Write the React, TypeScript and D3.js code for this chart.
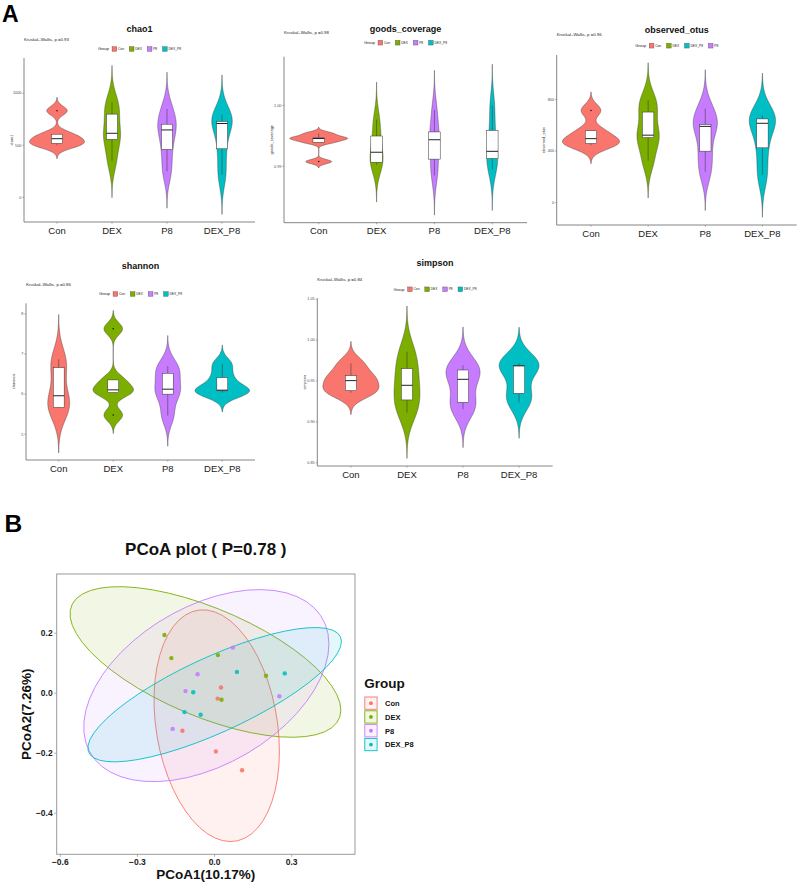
import * as d3 from 'd3';

const FONT = '"Liberation Sans", Arial, Helvetica, sans-serif';

const groups = ['Con', 'DEX', 'P8', 'DEX_P8'];
const groupColors = ['#F8766D', '#7CAE00', '#C77CFF', '#00BFC4'];

// alpha diversity, five samples per group (Con, DEX, P8, DEX_P8), read back from the boxes
const chao1 = [
  [499, 518, 563, 606, 832],
  [350, 557, 615, 799, 913],
  [249, 460, 647, 702, 848],
  [217, 466, 709, 728, 793],
];
const goodsCoverage = [
  [0.99077, 0.99395, 0.99456, 0.99467, 0.99538],
  [0.99026, 0.99067, 0.99231, 0.99497, 0.99769],
  [0.9885, 0.99118, 0.99436, 0.99564, 0.99923],
  [0.9895, 0.99128, 0.99246, 0.9959, 1.0],
];
const observedOtus = [
  [446, 459, 496, 557, 715],
  [325, 504, 523, 702, 795],
  [240, 399, 591, 605, 729],
  [214, 425, 615, 649, 676],
];
const shannon = [
  [5.65, 5.67, 5.96, 6.66, 6.87],
  [5.479, 6.041, 6.107, 6.355, 7.628],
  [5.463, 6.0, 6.124, 6.52, 6.7],
  [6.04, 6.083, 6.099, 6.413, 6.744],
];
const simpson = [
  [0.9357, 0.9382, 0.9504, 0.9565, 0.9716],
  [0.9113, 0.9268, 0.9447, 0.9651, 0.9858],
  [0.9154, 0.9239, 0.952, 0.9634, 0.9691],
  [0.9239, 0.9349, 0.9685, 0.9691, 0.9716],
];

const chao1Ticks = [0, 500, 1000];
const goodsTicks = [0.99, 1.0];
const otusTicks = [0, 400, 800];
const shannonTicks = [5, 6, 7, 8];
const simpsonTicks = [0.85, 0.9, 0.95, 1.0, 1.05];

const kruskalP = ['0.93', '0.98', '0.96', '0.86', '0.84'];

// PCoA sample scores
const pcoaCon = [[0.025, 0.019], [0.012, -0.018], [-0.125, -0.125], [0.005, -0.194], [0.107, -0.257]];
const pcoaDex = [[-0.195, 0.194], [-0.168, 0.117], [0.013, 0.127], [0.2, 0.058], [0.027, -0.022]];
const pcoaP8 = [[0.071, 0.152], [-0.066, 0.063], [-0.113, 0.007], [0.252, -0.01], [-0.163, -0.119]];
const pcoaDexP8 = [[0.087, 0.071], [0.273, 0.066], [-0.083, 0.003], [-0.117, -0.063], [-0.054, -0.072]];
const pcoaXTicks = [-0.6, -0.3, 0, 0.3];
const pcoaYTicks = [-0.4, -0.2, 0, 0.2];

const panels = [
  { title: 'chao1', data: chao1, ticks: chao1Ticks, fmt: (v: number) => String(v), p: kruskalP[0], order: [0, 1, 2, 3],
    left: 24, right: 255, top: 58, bottom: 222, titleY: 32, pY: 40.5, legendY: 49 },
  { title: 'goods_coverage', data: goodsCoverage, ticks: goodsTicks, fmt: (v: number) => v.toFixed(2), p: kruskalP[1], order: [0, 1, 2, 3],
    left: 284, right: 527, top: 56.7, bottom: 222.7, titleY: 32, pY: 34.3, legendY: 42.7 },
  { title: 'observed_otus', data: observedOtus, ticks: otusTicks, fmt: (v: number) => String(v), p: kruskalP[2], order: [0, 1, 3, 2],
    left: 556.7, right: 796.7, top: 55, bottom: 225, titleY: 33, pY: 35.5, legendY: 45.7 },
  { title: 'shannon', data: shannon, ticks: shannonTicks, fmt: (v: number) => String(v), p: kruskalP[3], order: [0, 1, 2, 3],
    left: 26, right: 255, top: 303.3, bottom: 460, titleY: 268.7, pY: 285.8, legendY: 294 },
  { title: 'simpson', data: simpson, ticks: simpsonTicks, fmt: (v: number) => v.toFixed(2), p: kruskalP[4], order: [0, 1, 2, 3],
    left: 317.3, right: 552.7, top: 298.3, bottom: 466, titleY: 266.3, pY: 280.5, legendY: 289.3 },
];

let ctx: CanvasRenderingContext2D | null = null;
function textWidth(s: string, size: number, weight = 'normal') {
  if (!ctx) ctx = document.createElement('canvas').getContext('2d');
  if (!ctx) return s.length * size * 0.55;
  ctx.font = `${weight} 100px ${FONT}`;
  return (ctx.measureText(s).width * size) / 100;
}

// R's bw.nrd0
function bwNrd0(v: number[]) {
  const sd = d3.deviation(v)!;
  const iqr = d3.quantile(v, 0.75)! - d3.quantile(v, 0.25)!;
  const lo = Math.min(sd, iqr / 1.34);
  return 0.9 * lo * Math.pow(v.length, -0.2);
}

function gaussKde(v: number[], bw: number, y: number) {
  return d3.sum(v, (x) => Math.exp(-0.5 * ((y - x) / bw) ** 2)) / (v.length * bw * Math.sqrt(2 * Math.PI));
}

function violinStats(v: number[]) {
  const bw = bwNrd0(v);
  const lo = d3.min(v)! - 3 * bw;
  const hi = d3.max(v)! + 3 * bw;
  const dens = d3.range(256).map((i) => {
    const y = lo + ((hi - lo) * i) / 255;
    return { y, d: gaussKde(v, bw, y) };
  });
  const s = v.slice().sort(d3.ascending);
  const q1 = d3.quantileSorted(s, 0.25)!;
  const med = d3.quantileSorted(s, 0.5)!;
  const q3 = d3.quantileSorted(s, 0.75)!;
  const iqr = q3 - q1;
  const inside = s.filter((x) => x >= q1 - 1.5 * iqr && x <= q3 + 1.5 * iqr);
  const out = s.filter((x) => x < q1 - 1.5 * iqr || x > q3 + 1.5 * iqr);
  return { lo, hi, dens, q1, med, q3, wLo: inside[0], wHi: inside[inside.length - 1], out };
}

function ViolinPanel({ cfg }: { cfg: (typeof panels)[number] }) {
  const stats = cfg.data.map(violinStats);
  const maxD = d3.max(stats, (s) => d3.max(s.dens, (d) => d.d))!;
  const yLo = d3.min(stats, (s) => s.lo)!;
  const yHi = d3.max(stats, (s) => s.hi)!;
  const pad = (yHi - yLo) * 0.05;
  const y = d3.scaleLinear().domain([yLo - pad, yHi + pad]).range([cfg.bottom, cfg.top]);
  const x = d3.scalePoint<string>().domain(groups).range([cfg.left, cfg.right]).padding(0.6);
  const half = x.step() / 2;
  const boxHalf = x.step() * 0.1;
  const cx0 = (cfg.left + cfg.right) / 2;

  // legend layout (top, centred on the panel)
  const keyS = 4.7;
  const titleW = textWidth('Group', 4);
  const items = cfg.order.map((gi) => ({ gi, w: textWidth(groups[gi], 3.3) }));
  const totalW = titleW + 3 + d3.sum(items, (it) => keyS + 1.2 + it.w + 5.3) - 5.3;
  let lx = cx0 - totalW / 2 + titleW + 3;
  const legendItems = items.map((it) => {
    const pos = lx;
    lx += keyS + 1.2 + it.w + 5.3;
    return { ...it, x: pos };
  });

  return (
    <g>
      <text x={cx0} y={cfg.titleY} fontSize={9} fontWeight="bold" textAnchor="middle" fill="#111">{cfg.title}</text>
      <text x={cfg.left} y={cfg.pY} fontSize={4.3} fill="#222">{`Kruskal\u2013Wallis, p =${cfg.p}`}</text>
      <text x={cx0 - totalW / 2} y={cfg.legendY + 1.4} fontSize={4} fill="#222">Group</text>
      {legendItems.map((it) => (
        <g key={it.gi}>
          <rect x={it.x} y={cfg.legendY - keyS / 2} width={keyS} height={keyS} fill={groupColors[it.gi]} stroke="#333" strokeWidth={0.3} />
          <text x={it.x + keyS + 1.2} y={cfg.legendY + 1.1} fontSize={3.3} fill="#222">{groups[it.gi]}</text>
        </g>
      ))}

      {stats.map((s, i) => {
        const cx = x(groups[i])!;
        const area = d3
          .area<{ y: number; d: number }>()
          .y((d) => y(d.y))
          .x0((d) => cx - (d.d / maxD) * half)
          .x1((d) => cx + (d.d / maxD) * half);
        return (
          <g key={groups[i]}>
            <path d={area(s.dens)!} fill={groupColors[i]} stroke="#333" strokeWidth={0.4} />
            <line x1={cx} x2={cx} y1={y(s.q3)} y2={y(s.wHi)} stroke="#333" strokeWidth={0.5} />
            <line x1={cx} x2={cx} y1={y(s.q1)} y2={y(s.wLo)} stroke="#333" strokeWidth={0.5} />
            <rect x={cx - boxHalf} y={y(s.q3)} width={boxHalf * 2} height={Math.max(0.3, y(s.q1) - y(s.q3))} fill="#fff" stroke="#333" strokeWidth={0.5} />
            <line x1={cx - boxHalf} x2={cx + boxHalf} y1={y(s.med)} y2={y(s.med)} stroke="#222" strokeWidth={1} />
            {s.out.map((o, k) => (
              <circle key={k} cx={cx} cy={y(o)} r={0.75} fill="#111" />
            ))}
          </g>
        );
      })}

      <line x1={cfg.left} x2={cfg.left} y1={cfg.top} y2={cfg.bottom} stroke="#777" strokeWidth={0.9} />
      <line x1={cfg.left} x2={cfg.right} y1={cfg.bottom} y2={cfg.bottom} stroke="#777" strokeWidth={0.9} />
      {cfg.ticks.map((t) => (
        <g key={t}>
          <line x1={cfg.left - 1.6} x2={cfg.left} y1={y(t)} y2={y(t)} stroke="#777" strokeWidth={0.6} />
          <text x={cfg.left - 2.6} y={y(t) + 1.3} fontSize={3.8} textAnchor="end" fill="#4d4d4d">{cfg.fmt(t)}</text>
        </g>
      ))}
      <text transform={`translate(${cfg.left - 11.5},${(cfg.top + cfg.bottom) / 2}) rotate(-90)`} fontSize={4} textAnchor="middle" fill="#333">{cfg.title}</text>
      {groups.map((g) => (
        <g key={g}>
          <line x1={x(g)} x2={x(g)} y1={cfg.bottom} y2={cfg.bottom + 1.6} stroke="#777" strokeWidth={0.6} />
          <text x={x(g)} y={cfg.bottom + 11.5} fontSize={9.5} textAnchor="middle" fill="#1a1a1a">{g}</text>
        </g>
      ))}
    </g>
  );
}

// MASS::cov.trob (nu = 5), as used by stat_ellipse(type = "t")
function covTrob(pts: number[][]) {
  const nu = 5;
  const p = 2;
  let loc = [d3.mean(pts, (d) => d[0])!, d3.mean(pts, (d) => d[1])!];
  let w = pts.map(() => 1);
  let X = pts.map((d) => [d[0] - loc[0], d[1] - loc[1]]);
  for (let iter = 0; iter < 25; iter++) {
    const w0 = w.slice();
    X = pts.map((d) => [d[0] - loc[0], d[1] - loc[1]]);
    const sw = d3.sum(w);
    let a = 0, b = 0, c = 0;
    X.forEach((r, i) => {
      a += (w[i] / sw) * r[0] * r[0];
      b += (w[i] / sw) * r[0] * r[1];
      c += (w[i] / sw) * r[1] * r[1];
    });
    const det = a * c - b * b;
    const Q = X.map((r) => (c * r[0] * r[0] - 2 * b * r[0] * r[1] + a * r[1] * r[1]) / det);
    w = Q.map((q) => (nu + p) / (nu + q));
    const sw2 = d3.sum(w);
    loc = [d3.sum(pts, (d, i) => w[i] * d[0]) / sw2, d3.sum(pts, (d, i) => w[i] * d[1]) / sw2];
    if (w.every((wi, i) => Math.abs(wi - w0[i]) < 0.01)) break;
  }
  let s11 = 0, s12 = 0, s22 = 0;
  X.forEach((r, i) => {
    s11 += w[i] * r[0] * r[0];
    s12 += w[i] * r[0] * r[1];
    s22 += w[i] * r[1] * r[1];
  });
  const n = pts.length;
  return { center: loc, s11: s11 / n, s12: s12 / n, s22: s22 / n };
}

function tEllipse(pts: number[][], level = 0.95, segments = 51) {
  const { center, s11, s12, s22 } = covTrob(pts);
  const dfd = pts.length - 1;
  const qf = (dfd / 2) * (Math.pow(1 - level, -2 / dfd) - 1); // F quantile with dfn = 2
  const radius = Math.sqrt(2 * qf);
  const a = Math.sqrt(s11);
  const b = s12 / a;
  const c = Math.sqrt(Math.max(0, s22 - b * b));
  return d3.range(segments + 1).map((k) => {
    const t = (k * 2 * Math.PI) / segments;
    return [center[0] + radius * Math.cos(t) * a, center[1] + radius * (Math.cos(t) * b + Math.sin(t) * c)];
  });
}

const minusFmt = (v: number) => (v < 0 ? '\u2212' : '') + Math.abs(v).toFixed(1);

function PcoaPanel() {
  const sets = [pcoaCon, pcoaDex, pcoaP8, pcoaDexP8];
  const ellipses = sets.map((s) => tEllipse(s));
  const allPts = ellipses.flat().concat(sets.flat());
  const [xLo, xHi] = d3.extent(allPts, (d) => d[0]) as [number, number];
  const [yLo, yHi] = d3.extent(allPts, (d) => d[1]) as [number, number];
  const px = (xHi - xLo) * 0.05;
  const py = (yHi - yLo) * 0.05;
  const L = 56.7, R = 355, T = 574, B = 854.3;
  const x = d3.scaleLinear().domain([xLo - px, xHi + px]).range([L, R]);
  const y = d3.scaleLinear().domain([yLo - py, yHi + py]).range([B, T]);
  const line = d3.line<number[]>().x((d) => x(d[0])).y((d) => y(d[1]));

  return (
    <g>
      <text x={205.8} y={555} fontSize={17} fontWeight="bold" textAnchor="middle" fill="#111">PCoA plot ( P=0.78 )</text>
      <defs>
        <clipPath id="pcoa-clip">
          <rect x={L} y={T} width={R - L} height={B - T} />
        </clipPath>
      </defs>
      <g clipPath="url(#pcoa-clip)">
        {ellipses.map((e, i) => (
          <path key={i} d={line(e)! + 'Z'} fill={groupColors[i]} fillOpacity={0.1} stroke={groupColors[i]} strokeWidth={0.9} />
        ))}
        {sets.map((s, i) =>
          s.map((d, k) => <circle key={`${i}-${k}`} cx={x(d[0])} cy={y(d[1])} r={2.2} fill={groupColors[i]} fillOpacity={0.9} />),
        )}
      </g>
      <rect x={L} y={T} width={R - L} height={B - T} fill="none" stroke="#9a9a9a" strokeWidth={1} />
      {pcoaXTicks.map((t) => (
        <g key={t}>
          <line x1={x(t)} x2={x(t)} y1={B} y2={B + 2.5} stroke="#9a9a9a" strokeWidth={0.8} />
          <text x={x(t)} y={B + 11} fontSize={8.5} fontWeight="bold" textAnchor="middle" fill="#1a1a1a">{minusFmt(t)}</text>
        </g>
      ))}
      {pcoaYTicks.map((t) => (
        <g key={t}>
          <line x1={L - 2.5} x2={L} y1={y(t)} y2={y(t)} stroke="#9a9a9a" strokeWidth={0.8} />
          <text x={L - 4} y={y(t) + 3} fontSize={8.5} fontWeight="bold" textAnchor="end" fill="#1a1a1a">{minusFmt(t)}</text>
        </g>
      ))}
      <text x={(L + R) / 2} y={879} fontSize={13.5} fontWeight="bold" textAnchor="middle" fill="#111">PCoA1(10.17%)</text>
      <text transform={`translate(31,${(T + B) / 2}) rotate(-90)`} fontSize={13.5} fontWeight="bold" textAnchor="middle" fill="#111">PCoA2(7.26%)</text>

      <text x={364.3} y={688} fontSize={13.5} fontWeight="bold" fill="#111">Group</text>
      {groups.map((g, i) => {
        const ky = 697 + i * 13.8;
        return (
          <g key={g}>
            <rect x={364.8} y={ky} width={12.3} height={12.3} fill={groupColors[i]} fillOpacity={0.1} stroke={groupColors[i]} strokeWidth={0.9} />
            <circle cx={364.8 + 6.15} cy={ky + 6.15} r={1.9} fill={groupColors[i]} />
            <text x={385} y={ky + 8.9} fontSize={7.5} fontWeight="bold" fill="#111">{g}</text>
          </g>
        );
      })}
    </g>
  );
}

export default function App() {
  return (
    <div style={{ position: 'absolute', left: 0, top: 0 }}>
      <svg width={799} height={885} viewBox="0 0 799 885" style={{ display: 'block', background: '#fff', fontFamily: FONT }}>
        <text x={2} y={21.7} fontSize={23} fontWeight="bold" fill="#000">A</text>
        {panels.map((p) => (
          <ViolinPanel key={p.title} cfg={p} />
        ))}
        <text x={4.5} y={531.5} fontSize={24.5} fontWeight="bold" fill="#000">B</text>
        <PcoaPanel />
      </svg>
    </div>
  );
}
